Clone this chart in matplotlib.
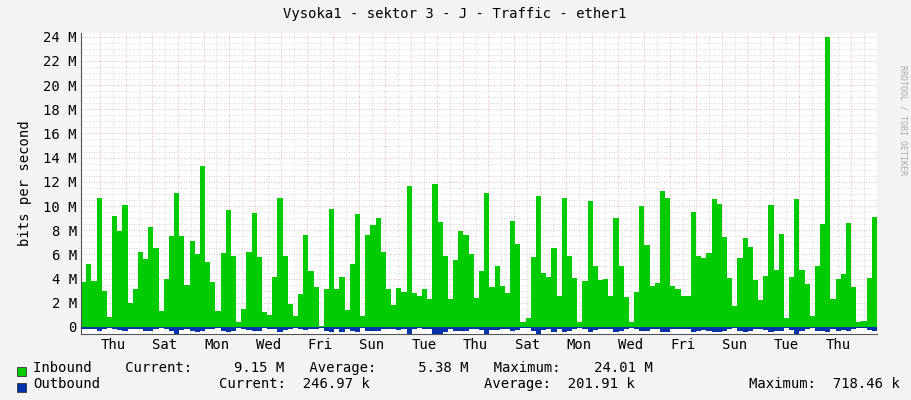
import matplotlib
matplotlib.use("Agg")
import matplotlib.pyplot as plt
import numpy as np

inbound_m = [3.7,5.2,3.8,10.7,3.0,0.85,9.2,7.9,10.1,2.0,3.1,6.2,5.6,8.3,6.5,1.3,4.0,7.5,11.1,7.5,
             3.5,7.1,6.0,13.3,5.4,3.7,1.3,6.1,9.7,5.9,0.4,1.5,6.2,9.4,5.8,1.2,1.0,4.1,10.7,5.9,
             1.9,0.9,2.7,7.6,4.6,3.3,0.1,3.1,9.75,3.1,4.1,1.4,5.2,9.3,0.9,7.6,8.4,9.0,6.2,3.1,
             1.8,3.2,2.9,11.65,2.8,2.6,3.1,2.3,11.8,8.7,5.9,2.3,5.5,7.9,7.6,6.0,2.4,4.6,11.1,3.3,
             5.0,3.4,2.8,8.8,6.9,0.4,0.75,5.8,10.8,4.5,4.1,6.5,2.6,10.7,5.9,4.05,0.4,3.8,10.4,5.0,
             3.9,4.0,2.6,9.0,5.0,2.5,0.4,2.9,10.0,6.8,3.4,3.6,11.2,10.7,3.4,3.1,2.6,2.6,9.5,5.9,
             5.7,6.1,10.6,10.2,7.4,4.05,1.7,5.7,7.35,6.6,3.9,2.2,4.2,10.1,4.7,7.7,0.75,4.1,10.6,4.7,
             3.55,0.9,5.0,8.5,24.0,2.3,4.0,4.4,8.6,3.3,0.4,0.5,4.05,9.1]
outbound_m = [0.15,0.2,0.2,0.3,0.15,0.1,0.2,0.25,0.3,0.15,0.2,0.2,0.35,0.3,0.15,0.1,0.2,0.3,0.72,0.25,
              0.2,0.35,0.45,0.3,0.2,0.15,0.1,0.3,0.45,0.35,0.1,0.15,0.25,0.35,0.3,0.1,0.15,0.2,0.4,0.25,
              0.2,0.1,0.15,0.25,0.2,0.15,0.1,0.3,0.45,0.2,0.4,0.15,0.3,0.4,0.1,0.3,0.35,0.3,0.2,0.15,
              0.15,0.25,0.2,0.72,0.15,0.1,0.2,0.15,0.7,0.7,0.4,0.15,0.3,0.35,0.3,0.2,0.15,0.25,0.55,0.25,
              0.25,0.2,0.15,0.3,0.25,0.1,0.1,0.3,0.55,0.25,0.2,0.4,0.15,0.4,0.3,0.2,0.1,0.2,0.45,0.25,
              0.2,0.2,0.15,0.4,0.3,0.15,0.1,0.2,0.35,0.3,0.15,0.2,0.45,0.4,0.2,0.15,0.15,0.2,0.4,0.3,
              0.25,0.3,0.45,0.4,0.3,0.2,0.1,0.3,0.4,0.3,0.2,0.15,0.25,0.45,0.3,0.35,0.1,0.25,0.6,0.3,
              0.2,0.1,0.3,0.35,0.4,0.2,0.3,0.25,0.35,0.2,0.1,0.1,0.25,0.3]
day_labels = ["Thu","Sat","Mon","Wed","Fri","Sun","Tue","Thu","Sat","Mon","Wed","Fri","Sun","Tue","Thu"]

inb = np.array(inbound_m)*1e6
outb = np.array(outbound_m)*1e6
n = len(inb)
total_days = 30.73
w = total_days/n
x = np.arange(n)*w
first_midnight = 0.73

plt.rcParams['font.family'] = ['DejaVu Sans Mono']
fig = plt.figure(figsize=(9.11,4.0), dpi=100, facecolor='#f3f3f3')
ax = fig.add_axes([81/911, 1-334/400, 796/911, (334-33)/400])
ax.set_facecolor('white')
ax.set_xlim(0, total_days)
ax.set_ylim(-0.58e6, 24.3e6)

# grid
for yv in np.arange(0, 24.3e6, 0.5e6):
    major = abs(yv/2e6 - round(yv/2e6)) < 1e-9
    ax.axhline(yv, color='#e8a0a0' if major else '#cccccc', lw=0.6, ls=(0,(1,2)), zorder=0)
d = first_midnight
while d < total_days:
    ax.axvline(d, color='#e8a0a0', lw=0.6, ls=(0,(1,2)), zorder=0)
    if d+0.5 < total_days:
        ax.axvline(d+0.5, color='#cccccc', lw=0.6, ls=(0,(1,2)), zorder=0)
    d += 1

ax.bar(x, inb, width=w, align='edge', color='#00cc00', lw=0, zorder=2)
ax.bar(x, -outb, width=w, align='edge', color='#0033aa', lw=0, zorder=3)

ax.set_yticks(np.arange(0, 24.1e6, 2e6))
ax.set_yticklabels(["0"]+[f"{i} M" for i in range(2,25,2)], fontsize=10)
ax.set_xticks([first_midnight+0.5+2*i for i in range(len(day_labels))])
ax.set_xticklabels(day_labels, fontsize=10)
ax.tick_params(length=0, pad=3)
for s in ['top','right']:
    ax.spines[s].set_visible(False)
ax.spines['left'].set_color('#555555'); ax.spines['bottom'].set_color('#555555')
ax.spines['left'].set_linewidth(0.8); ax.spines['bottom'].set_linewidth(0.8)
ax.set_ylabel("bits per second", fontsize=10, labelpad=8)

fig.text(455/911, 1-14/400, "Vysoka1 - sektor 3 - J - Traffic - ether1", ha='center', va='center', fontsize=10)
fig.text(903/911, 0.7, "RRDTOOL / TOBI OETIKER", rotation=270, ha='center', va='center', fontsize=6, color='#aaaaaa')

def sq(x0, y0, c):
    fig.patches.append(plt.Rectangle((x0/911, 1-y0/400), 9/911, 9/400, transform=fig.transFigure, facecolor=c, edgecolor='#333333', lw=0.6))
sq(17, 376, '#00cc00')
sq(17, 392, '#0033aa')
fs = 10
y1 = 1-368/400; y2 = 1-384/400
fig.text(33/911, y1, "Inbound    Current:     9.15 M   Average:     5.38 M   Maximum:    24.01 M", fontsize=fs, va='center')
fig.text(33/911, y2, "Outbound", fontsize=fs, va='center')
fig.text(219/911, y2, "Current:  246.97 k", fontsize=fs, va='center')
fig.text(484/911, y2, "Average:  201.91 k", fontsize=fs, va='center')
fig.text(749/911, y2, "Maximum:  718.46 k", fontsize=fs, va='center')

fig.savefig("out.png", dpi=100, facecolor=fig.get_facecolor())
